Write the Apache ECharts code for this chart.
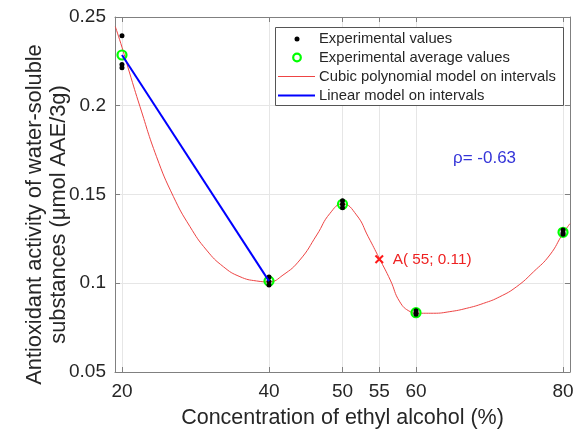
<!DOCTYPE html>
<html><head><meta charset="utf-8">
<script src="https://cdn.jsdelivr.net/npm/echarts@6/dist/echarts.min.js"></script>
<style>html,body{margin:0;padding:0;background:#fff}#c{width:576px;height:432px}</style>
</head><body><div id="c"></div>
<script>
// ---- data ----
const xTicks = [20, 40, 50, 55, 60, 80];
const yTicks = [0.05, 0.1, 0.15, 0.2, 0.25];
const expX = [20, 20, 20, 40, 40, 40, 50, 50, 50, 60, 60, 60, 80, 80, 80];
const expY = [0.2395, 0.2233, 0.2214, 0.1035, 0.1010, 0.0990, 0.1465, 0.1445, 0.1425, 0.0845, 0.0832, 0.0825, 0.1300, 0.1285, 0.1276];
const avgX = [20, 40, 50, 60, 80];
const avgY = [0.2286, 0.1012, 0.1445, 0.0834, 0.1287];
const cubicX = [19.1, 20, 21, 22.45, 24.7, 27.0, 29.25, 31.5, 33.8, 36.05, 38.3, 40, 41.9, 44.2, 46.5, 48.3, 50, 51.9, 53.5, 55, 56.5, 57.8, 59.2, 60.1, 62.4, 64.6, 66.9, 69.2, 71.4, 73.7, 76, 78.2, 80, 80.95];
const cubicY = [0.2445, 0.2330, 0.2190, 0.1995, 0.1713, 0.1488, 0.1319, 0.1187, 0.1093, 0.1037, 0.1013, 0.1008, 0.1046, 0.1131, 0.1272, 0.1394, 0.1447, 0.1385, 0.1262, 0.1141, 0.1018, 0.0895, 0.0840, 0.0831, 0.0831, 0.0840, 0.0859, 0.0887, 0.0924, 0.0981, 0.1065, 0.1159, 0.1281, 0.1336];
const linearX = [20, 40];
const linearY = [0.2286, 0.1012];
const pointAX = [55];
const pointAY = [0.1135];
const pointALabel = 'A( 55; 0.11)';
const rhoText = 'ρ= -0.63';
const legendNames = ['Experimental values', 'Experimental average values', 'Cubic polynomial model on intervals', 'Linear model on intervals'];
const xTitle = 'Concentration of ethyl alcohol (%)';
const yTitle = 'Antioxidant activity of water-soluble\nsubstances (μmol AAE/3g)';

const zip = (a, b) => a.map((v, i) => [v, b[i]]);
const FONT = 'Liberation Sans';
const axisGray = '#808080';
const textCol = '#262626';

const chart = echarts.init(document.getElementById('c'), null, {renderer: 'canvas'});
const xCommon = {type: 'value', min: 19.05, max: 80.95};
const yCommon = {type: 'value', min: 0.05, max: 0.25, interval: 0.05};
chart.setOption({
  animation: false,
  backgroundColor: '#fff',
  grid: {left: 115, right: 6, top: 17, bottom: 60, containLabel: false, outerBoundsMode: 'none'},
  xAxis: [
    Object.assign({}, xCommon, {
      position: 'bottom',
      axisLine: {show: true, onZero: false, lineStyle: {color: axisGray, width: 1}},
      axisTick: {show: true, inside: true, length: 5, customValues: xTicks, lineStyle: {color: axisGray}},
      axisLabel: {show: true, customValues: xTicks, fontSize: 19, color: textCol, fontFamily: FONT, margin: 10},
      splitLine: {show: true, lineStyle: {color: '#e6e6e6', width: 1}},
      name: xTitle, nameLocation: 'middle', nameGap: 35, nameMoveOverlap: false,
      nameTextStyle: {fontSize: 21.5, color: textCol, fontFamily: FONT}
    }),
    Object.assign({}, xCommon, {
      position: 'top',
      axisLine: {show: true, onZero: false, lineStyle: {color: axisGray, width: 1}},
      axisTick: {show: true, inside: true, length: 5, customValues: xTicks, lineStyle: {color: axisGray}},
      axisLabel: {show: false},
      splitLine: {show: false}
    })
  ],
  yAxis: [
    Object.assign({}, yCommon, {
      position: 'left',
      axisLine: {show: true, onZero: false, lineStyle: {color: axisGray, width: 1}},
      axisTick: {show: true, inside: true, length: 5, lineStyle: {color: axisGray}},
      axisLabel: {show: true, fontSize: 19, color: textCol, fontFamily: FONT, margin: 9},
      splitLine: {show: true, lineStyle: {color: '#e6e6e6', width: 1}},
      name: yTitle, nameLocation: 'middle', nameGap: 44, nameRotate: 90, nameMoveOverlap: false,
      nameTextStyle: {fontSize: 21.8, lineHeight: 24, color: textCol, fontFamily: FONT, align: 'center', padding: [0, 40, 0, 0]}
    }),
    Object.assign({}, yCommon, {
      position: 'right',
      axisLine: {show: true, onZero: false, lineStyle: {color: axisGray, width: 1}},
      axisTick: {show: true, inside: true, length: 5, lineStyle: {color: axisGray}},
      axisLabel: {show: false},
      splitLine: {show: false}
    })
  ],
  legend: {show: false},
  series: [
    {
      name: legendNames[2], type: 'line', xAxisIndex: 0, yAxisIndex: 0,
      data: zip(cubicX, cubicY), showSymbol: false, symbol: 'none',
      smooth: 0.5,
      lineStyle: {color: '#ee4444', width: 1}, z: 3
    },
    {
      name: legendNames[1], type: 'scatter', xAxisIndex: 0, yAxisIndex: 0,
      data: zip(avgX, avgY), symbol: 'circle', symbolSize: 9,
      itemStyle: {color: 'rgba(0,0,0,0)', borderColor: '#00ff00', borderWidth: 2.2, opacity: 1}, z: 4
    },
    {
      name: legendNames[0], type: 'scatter', xAxisIndex: 0, yAxisIndex: 0,
      data: zip(expX, expY), symbol: 'circle', symbolSize: 5,
      itemStyle: {color: '#000', opacity: 1}, z: 5
    },
    {
      name: legendNames[3], type: 'line', xAxisIndex: 0, yAxisIndex: 0,
      data: zip(linearX, linearY), showSymbol: false, symbol: 'none',
      lineStyle: {color: '#0000ff', width: 2}, z: 6
    },
    {
      name: 'A', type: 'scatter', xAxisIndex: 0, yAxisIndex: 0,
      data: zip(pointAX, pointAY),
      symbol: 'path://M0,1.6 L1.6,0 L5,3.4 L8.4,0 L10,1.6 L6.6,5 L10,8.4 L8.4,10 L5,6.6 L1.6,10 L0,8.4 L3.4,5 Z',
      symbolSize: 9,
      itemStyle: {color: '#ff1a1a', opacity: 1},
      label: {show: true, position: 'right', distance: 9, formatter: pointALabel, color: '#ee2222', fontSize: 15.3, fontFamily: FONT},
      z: 7
    }
  ],
  graphic: [
    {type: 'text', left: 453, top: 150, z: 50, style: {text: rhoText, fill: '#3434d8', font: '17px "Liberation Sans"'}},
    {type: 'rect', z: 100, shape: {x: 275.5, y: 27.5, width: 288, height: 78}, style: {fill: '#fff', stroke: '#555', lineWidth: 1}},
    {type: 'circle', z: 101, shape: {cx: 297, cy: 39, r: 2.5}, style: {fill: '#000'}},
    {type: 'circle', z: 101, shape: {cx: 297, cy: 57.5, r: 3.8}, style: {fill: 'none', stroke: '#00ff00', lineWidth: 2.2}},
    {type: 'line', z: 101, shape: {x1: 278, y1: 76.5, x2: 315, y2: 76.5}, style: {stroke: '#ee4444', lineWidth: 1}},
    {type: 'line', z: 101, shape: {x1: 278, y1: 95.5, x2: 315, y2: 95.5}, style: {stroke: '#0000ff', lineWidth: 2}},
    {type: 'text', z: 101, x: 319, y: 39, style: {text: legendNames[0], fill: textCol, font: '14.8px "Liberation Sans"', verticalAlign: 'middle'}},
    {type: 'text', z: 101, x: 319, y: 58, style: {text: legendNames[1], fill: textCol, font: '14.8px "Liberation Sans"', verticalAlign: 'middle'}},
    {type: 'text', z: 101, x: 319, y: 77, style: {text: legendNames[2], fill: textCol, font: '14.8px "Liberation Sans"', verticalAlign: 'middle'}},
    {type: 'text', z: 101, x: 319, y: 96, style: {text: legendNames[3], fill: textCol, font: '14.8px "Liberation Sans"', verticalAlign: 'middle'}}
  ]
});
</script>
</body></html>
